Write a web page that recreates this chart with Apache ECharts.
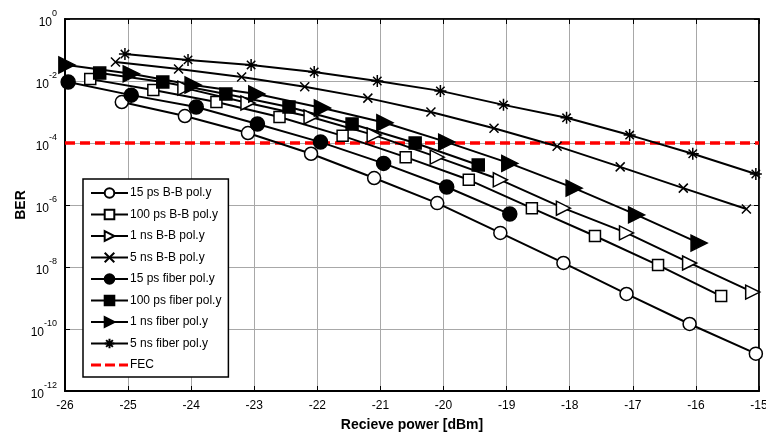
<!DOCTYPE html>
<html>
<head>
<meta charset="utf-8">
<script src="https://cdn.jsdelivr.net/npm/echarts@6/dist/echarts.min.js"></script>
<style>
html, body { margin: 0; padding: 0; background: #fff; }
#main { width: 766px; height: 436px; }
</style>
</head>
<body>
<div id="main"></div>
<script>
// 各曲线数据 (x: 接收功率 dBm, y: BER)
var names = ['15 ps B-B pol.y', '100 ps B-B pol.y', '1 ns B-B pol.y', '5 ns B-B pol.y',
  '15 ps fiber pol.y', '100 ps fiber pol.y', '1 ns fiber pol.y', '5 ns fiber pol.y', 'FEC'];

var x15psBB = [-25.1, -24.1, -23.1, -22.1, -21.1, -20.1, -19.1, -18.1, -17.1, -16.1, -15.05];
var y15psBB = [2.1e-3, 7.4e-4, 2.1e-4, 4.5e-5, 7.4e-6, 1.15e-6, 1.26e-7, 1.35e-8, 1.35e-9, 1.45e-10, 1.6e-11];

var x100psBB = [-25.6, -24.6, -23.6, -22.6, -21.6, -20.6, -19.6, -18.6, -17.6, -16.6, -15.6];
var y100psBB = [1.15e-2, 5.1e-3, 2.1e-3, 6.9e-4, 1.7e-4, 3.5e-5, 6.5e-6, 7.9e-7, 1.0e-7, 1.15e-8, 1.15e-9];

var x1nsBB = [-24.1, -23.1, -22.1, -21.1, -20.1, -19.1, -18.1, -17.1, -16.1, -15.1];
var y1nsBB = [5.9e-3, 1.95e-3, 6.9e-4, 1.8e-4, 3.5e-5, 6.5e-6, 7.9e-7, 1.26e-7, 1.35e-8, 1.55e-9];

var x5nsBB = [-25.2, -24.2, -23.2, -22.2, -21.2, -20.2, -19.2, -18.2, -17.2, -16.2, -15.2];
var y5nsBB = [4.1e-2, 2.45e-2, 1.35e-2, 6.5e-3, 2.8e-3, 1.0e-3, 3.0e-4, 7.9e-5, 1.7e-5, 3.5e-6, 7.4e-7];

var x15psFiber = [-25.95, -24.95, -23.92, -22.95, -21.95, -20.95, -19.95, -18.95];
var y15psFiber = [9.3e-3, 3.5e-3, 1.45e-3, 4.1e-4, 1.07e-4, 2.2e-5, 3.8e-6, 5.1e-7];

var x100psFiber = [-25.45, -24.45, -23.45, -22.45, -21.45, -20.45, -19.45];
var y100psFiber = [1.8e-2, 9.3e-3, 3.8e-3, 1.45e-3, 4.1e-4, 1.0e-4, 1.95e-5];

var x1nsFiber = [-25.97, -24.95, -23.97, -22.96, -21.92, -20.93, -19.95, -18.95, -17.93, -16.94, -15.95];
var y1nsFiber = [3.3e-2, 1.7e-2, 7.4e-3, 3.8e-3, 1.35e-3, 4.5e-4, 1.07e-4, 2.2e-5, 3.5e-6, 4.8e-7, 5.9e-8];

var x5nsFiber = [-25.05, -24.05, -23.05, -22.05, -21.05, -20.05, -19.05, -18.05, -17.05, -16.05, -15.05];
var y5nsFiber = [7.4e-2, 4.8e-2, 3.3e-2, 1.95e-2, 1.0e-2, 4.8e-3, 1.7e-3, 6.5e-4, 1.8e-4, 4.5e-5, 1.0e-5];

var xFEC = [-26, -15];
var yFEC = [1e-4, 1e-4];

var xTicks = [-26, -25, -24, -23, -22, -21, -20, -19, -18, -17, -16, -15];

function pairs(xs, ys) {
  var out = [];
  for (var i = 0; i < xs.length; i++) out.push([xs[i], ys[i]]);
  return out;
}

var FONT = '"Liberation Sans", Arial, sans-serif';
var crossPath = 'path://M0,0L10,10M10,0L0,10';
var starPath = 'path://M5,0L5,10M0,5L10,5M1.5,1.5L8.5,8.5M8.5,1.5L1.5,8.5';
// 图例里的虚线图标
var dashIcon = 'path://M0,0h10v3h-10zM14,0h10v3h-10zM28,0h9v3h-9z';

// 曲线样式
function mk(name, data, symbol, size, filled, rotate) {
  return {
    name: name,
    type: 'line',
    data: data,
    symbol: symbol,
    symbolSize: size,
    symbolRotate: rotate || 0,
    showAllSymbol: true,
    z: 3,
    lineStyle: { color: '#000', width: 2 },
    itemStyle: { color: filled ? '#000' : '#fff', borderColor: '#000', borderWidth: 1.5 },
    emphasis: { disabled: true },
    animation: false
  };
}

var series = [
  mk(names[0], pairs(x15psBB, y15psBB), 'circle', 13, false),
  mk(names[1], pairs(x100psBB, y100psBB), 'rect', 11, false),
  mk(names[2], pairs(x1nsBB, y1nsBB), 'triangle', 14, false, -90),
  mk(names[3], pairs(x5nsBB, y5nsBB), crossPath, 9, false),
  mk(names[4], pairs(x15psFiber, y15psFiber), 'circle', 14, true),
  mk(names[5], pairs(x100psFiber, y100psFiber), 'rect', 12, true),
  mk(names[6], pairs(x1nsFiber, y1nsFiber), 'triangle', 16, true, -90),
  mk(names[7], pairs(x5nsFiber, y5nsFiber), starPath, 12, false),
  {
    name: names[8],
    type: 'line',
    data: pairs(xFEC, yFEC),
    symbol: 'none',
    z: 2,
    lineStyle: { color: '#ff0000', width: 3.5, type: [10, 5] },
    itemStyle: { color: '#ff0000' },
    emphasis: { disabled: true },
    animation: false
  }
];

var legendData = names.map(function (n) {
  if (n === 'FEC') return { name: n, icon: dashIcon, itemStyle: { color: '#ff0000', borderWidth: 0 } };
  return { name: n };
});

var chart = echarts.init(document.getElementById('main'));
var option = {
  backgroundColor: '#fff',
  animation: false,
  textStyle: { fontFamily: FONT },
  grid: { left: 65, right: 7, top: 19, bottom: 45, show: true, borderColor: '#000', borderWidth: 1.5,
    containLabel: false, outerBoundsMode: 'none' },
  legend: {
    orient: 'vertical',
    left: 83,
    top: 179,
    data: legendData,
    itemWidth: 37,
    itemHeight: 12,
    itemGap: 9.5,
    padding: [8, 7, 6, 7],
    backgroundColor: '#fff',
    borderColor: '#000',
    borderWidth: 1.5,
    borderRadius: 0,
    textStyle: { fontFamily: FONT, fontSize: 12, color: '#000', padding: [0, 0, 0, -3] },
    selectedMode: false
  },
  xAxis: [{
    type: 'value',
    min: -26,
    max: -15,
    interval: 1,
    name: 'Recieve power [dBm]',
    nameLocation: 'middle',
    nameGap: 27,
    nameMoveOverlap: false,
    nameTextStyle: { fontFamily: FONT, fontSize: 14, fontWeight: 'bold', color: '#000' },
    axisLine: { show: true, lineStyle: { color: '#000', width: 2 } },
    axisTick: { show: true, inside: true, length: 5, lineStyle: { color: '#000' } },
    axisLabel: { fontFamily: FONT, fontSize: 12, color: '#000', margin: 9,
      formatter: function (v) { return xTicks.indexOf(v) >= 0 ? String(v) : ''; } },
    splitLine: { show: true, lineStyle: { color: '#a8a8a8', width: 1 } }
  }, {
    type: 'value',
    position: 'top',
    min: -26,
    max: -15,
    interval: 1,
    axisLine: { show: true, lineStyle: { color: '#000', width: 1.5 } },
    axisTick: { show: true, inside: true, length: 5, lineStyle: { color: '#000' } },
    axisLabel: { show: false },
    splitLine: { show: false }
  }],
  yAxis: [{
    type: 'log',
    logBase: 10,
    min: 1e-12,
    max: 1,
    interval: 2,
    name: 'BER',
    nameLocation: 'middle',
    nameGap: 37,
    nameMoveOverlap: false,
    nameTextStyle: { fontFamily: FONT, fontSize: 14, fontWeight: 'bold', color: '#000' },
    axisLine: { show: true, lineStyle: { color: '#000', width: 2 } },
    axisTick: { show: true, inside: true, length: 5, lineStyle: { color: '#000' } },
    axisLabel: {
      color: '#000',
      margin: 8,
      formatter: function (v) {
        var e = Math.round(Math.log10(v));
        return '{b|10}{s|' + e + '}';
      },
      rich: {
        b: { fontFamily: FONT, fontSize: 12, color: '#000', lineHeight: 20, verticalAlign: 'bottom' },
        s: { fontFamily: FONT, fontSize: 9, color: '#000', lineHeight: 10, verticalAlign: 'top' }
      }
    },
    splitLine: { show: true, lineStyle: { color: '#a8a8a8', width: 1 } }
  }, {
    type: 'log',
    logBase: 10,
    position: 'right',
    min: 1e-12,
    max: 1,
    interval: 2,
    axisLine: { show: true, lineStyle: { color: '#000', width: 1.5 } },
    axisTick: { show: true, inside: true, length: 5, lineStyle: { color: '#000' } },
    axisLabel: { show: false },
    splitLine: { show: false }
  }],
  series: series
};
chart.setOption(option);
</script>
</body>
</html>
